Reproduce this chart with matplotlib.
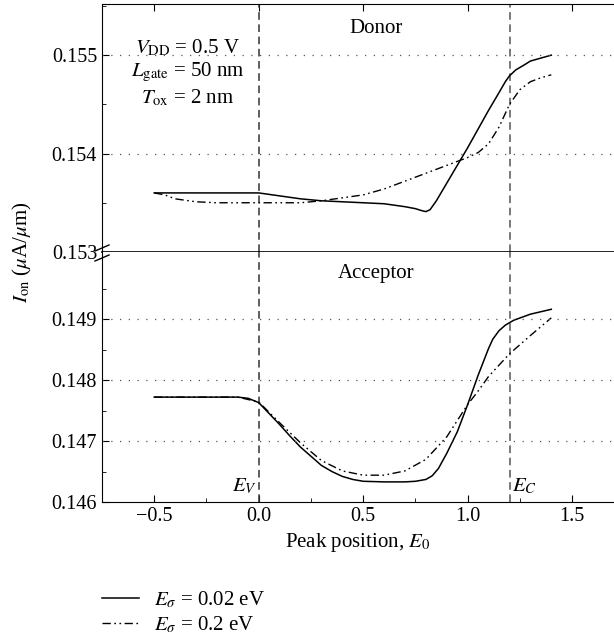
import numpy as np
import matplotlib
matplotlib.use("Agg")
import matplotlib.pyplot as plt
from matplotlib.lines import Line2D

plt.rcParams['font.family'] = ['Liberation Serif', 'DejaVu Serif']
plt.rcParams['mathtext.fontset'] = 'stix'
plt.rcParams['font.size'] = 15

# Donor curves
don_x_a = [-0.5, 0.0, 0.1, 0.2, 0.3, 0.4, 0.5, 0.6, 0.7, 0.75, 0.78, 0.8, 0.82,
           0.85, 0.9, 1.0, 1.1, 1.15, 1.18, 1.2, 1.23, 1.27, 1.3, 1.35, 1.4]
don_y_a = [0.1536, 0.1536, 0.15357, 0.15354, 0.15352, 0.15351, 0.15350, 0.15349,
           0.15346, 0.15344, 0.15342, 0.15341, 0.15343, 0.15352, 0.15370, 0.15406,
           0.15444, 0.15462, 0.15473, 0.15479, 0.15485, 0.15490, 0.15494, 0.15497,
           0.15500]
don_x_b = [-0.5, -0.45, -0.4, -0.3, -0.2, 0.0, 0.2, 0.3, 0.4, 0.5, 0.6, 0.7, 0.8,
           0.9, 1.0, 1.05, 1.1, 1.15, 1.2, 1.25, 1.3, 1.35, 1.4]
don_y_b = [0.1536, 0.15358, 0.15354, 0.15351, 0.15350, 0.15350, 0.15350, 0.15352,
           0.15355, 0.15358, 0.15364, 0.15372, 0.15380, 0.15388, 0.15396, 0.15401,
           0.15410, 0.15427, 0.15450, 0.15465, 0.15473, 0.15477, 0.15480]

# Acceptor curves
acc_x_a = [-0.5, -0.1, -0.05, 0.0, 0.05, 0.1, 0.15, 0.2, 0.25, 0.3, 0.35, 0.4, 0.45,
           0.5, 0.6, 0.7, 0.75, 0.8, 0.83, 0.86, 0.9, 0.95, 1.0, 1.05, 1.1, 1.12,
           1.15, 1.18, 1.22, 1.3, 1.4]
acc_y_a = [0.14772, 0.14772, 0.14770, 0.14763, 0.14745, 0.14727, 0.14708, 0.14690,
           0.14675, 0.14660, 0.14650, 0.14642, 0.14637, 0.14634, 0.14633, 0.14633,
           0.14634, 0.14637, 0.14643, 0.14655, 0.14680, 0.14715, 0.14760, 0.14808,
           0.14852, 0.14867, 0.14881, 0.14890, 0.14898, 0.14908, 0.14916]
acc_x_b = [-0.5, -0.1, 0.0, 0.1, 0.2, 0.3, 0.4, 0.5, 0.6, 0.7, 0.8, 0.9, 1.0, 1.05,
           1.1, 1.2, 1.3, 1.4]
acc_y_b = [0.14772, 0.14772, 0.14764, 0.14730, 0.14697, 0.14668, 0.14651, 0.14644,
           0.14644, 0.14651, 0.14670, 0.14707, 0.14760, 0.14782, 0.14806, 0.14843,
           0.14873, 0.14902]

labels = [r'$E_{\sigma}$ = 0.02 eV', r'$E_{\sigma}$ = 0.2 eV']
ev, ec = 0.0, 1.2

dashdotdot = (0, (6, 2.5, 1.2, 2.5, 1.2, 2.5))
vdash = (0, (5, 3))
dots = (0, (1, 6))

fig = plt.figure(figsize=(6.14, 6.4), dpi=100)
ax_top = fig.add_axes([0.1661, 0.6063, 0.8339, 0.3875])
ax_bot = fig.add_axes([0.1661, 0.2156, 0.8339, 0.3907])

for ax in (ax_top, ax_bot):
    ax.set_xlim(-0.74, 1.70)
    ax.spines['right'].set_visible(False)
    ax.tick_params(direction='in', which='both', labelsize=14.5)
    ax.tick_params(which='major', length=5)
    ax.tick_params(which='minor', length=3)
    ax.set_xticks([-0.5, 0.0, 0.5, 1.0, 1.5])
    ax.set_xticks(np.arange(-0.75, 1.75, 0.25), minor=True)
    ax.axvline(ev, color='#333333', lw=1.1, ls=vdash)
    ax.axvline(ec, color='#555555', lw=1.1, ls=vdash)

# top (donor)
ax_top.plot(don_x_a, don_y_a, color='black', lw=1.1)
ax_top.plot(don_x_b, don_y_b, color='black', lw=1.0, ls=dashdotdot)
ax_top.set_ylim(0.153, 0.15552)
ax_top.set_yticks([0.153, 0.154, 0.155])
ax_top.set_yticklabels(['0.153', '0.154', '0.155'])
ax_top.set_yticks([0.1535, 0.1545, 0.1555], minor=True)
ax_top.tick_params(axis='x', which='both', top=True, bottom=False,
                   labelbottom=False)
ax_top.tick_params(axis='x', which='minor', top=False)
ax_top.spines['bottom'].set_linewidth(1.2)
for yv in [0.154, 0.155]:
    ax_top.axhline(yv, color='#555555', lw=0.9, ls=dots)
ax_top.text(0.56, 0.15527, 'Donor', ha='center', va='center')
ax_top.text(-0.34, 0.15507, r'$V_{\rm DD}$ = 0.5 V', ha='center', va='center')
ax_top.text(-0.34, 0.15482, r'$L_{\rm gate}$ = 50 nm', ha='center', va='center')
ax_top.text(-0.34, 0.15456, r'$T_{\rm ox}$ = 2 nm', ha='center', va='center')

# bottom (acceptor)
ax_bot.plot(acc_x_a, acc_y_a, color='black', lw=1.1)
ax_bot.plot(acc_x_b, acc_y_b, color='black', lw=1.0, ls=dashdotdot)
ax_bot.set_ylim(0.146, 0.1501)
ax_bot.set_yticks([0.146, 0.147, 0.148, 0.149])
ax_bot.set_yticklabels(['0.146', '0.147', '0.148', '0.149'])
ax_bot.set_yticks([0.1465, 0.1475, 0.1485, 0.1495], minor=True)
ax_bot.spines['top'].set_visible(False)
ax_bot.set_xticklabels(['\u22120.5', '0.0', '0.5', '1.0', '1.5'])
for yv in [0.147, 0.148, 0.149]:
    ax_bot.axhline(yv, color='#555555', lw=0.9, ls=dots)
ax_bot.text(0.56, 0.14975, 'Acceptor', ha='center', va='center')
ax_bot.text(-0.01, 0.14625, r'$E_V$', ha='right', va='center')
ax_bot.text(1.21, 0.14625, r'$E_C$', ha='left', va='center')
ax_bot.set_xlabel(r'Peak position, $E_0$', labelpad=4)

# y label for both panels
fig.text(0.036, 0.606, r'$I_{\rm on}$ ($\mu$A/$\mu$m)', rotation=90,
         ha='center', va='center')

# break marks on the left spine
for dy in (-4, 6):
    y0 = (640 - 252 - dy - 3) / 640
    y1 = (640 - 252 - dy + 3) / 640
    fig.add_artist(Line2D([95 / 614, 109 / 614], [y0, y1], color='black',
                          lw=1.0, transform=fig.transFigure))

# legend
handles = [Line2D([], [], color='black', lw=1.1),
           Line2D([], [], color='black', lw=1.0, ls=dashdotdot)]
fig.legend(handles, labels, loc='upper left', bbox_to_anchor=(0.166, 0.079),
           frameon=False, fontsize=15, handlelength=1.8, handletextpad=0.7,
           labelspacing=0.2, borderaxespad=0, borderpad=0)

fig.savefig('out.png', dpi=100)
